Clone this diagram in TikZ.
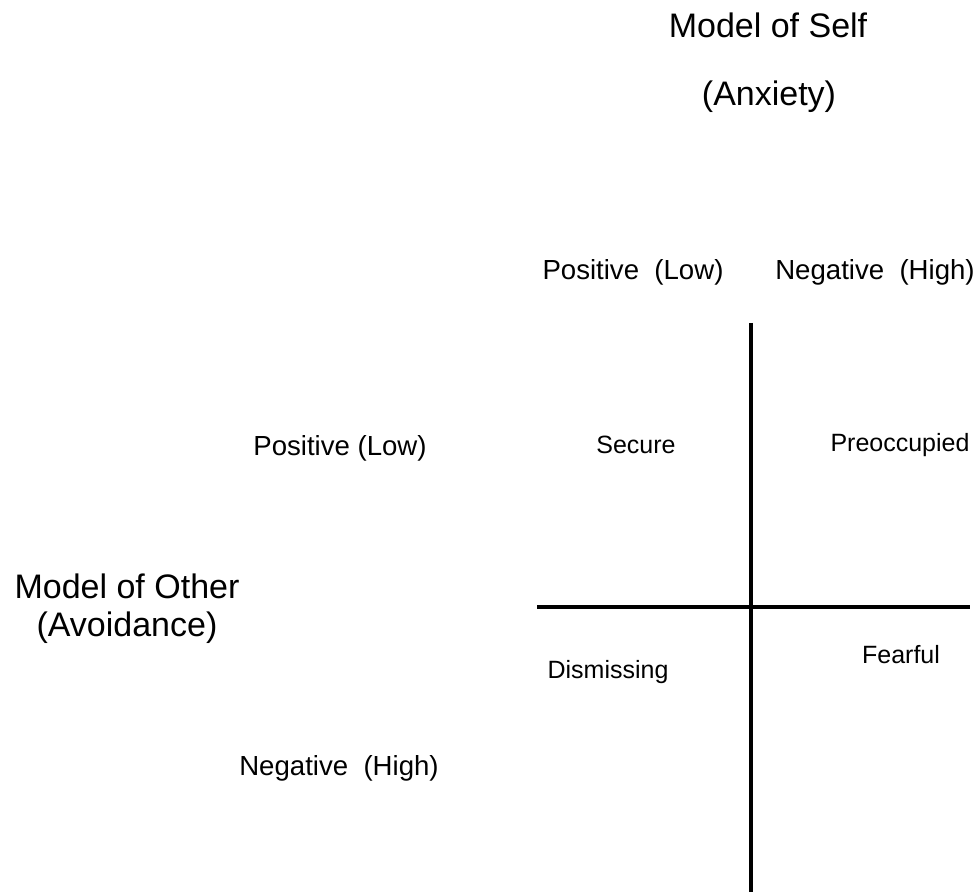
\documentclass[tikz,border=0pt]{standalone}
\usepackage{fontspec}
\setmainfont{Liberation Sans}

\begin{document}
\begin{tikzpicture}[x=0.5pt, y=-0.5pt,
    axisline/.style={line width=1.7pt, black},
    titlefont/.style={font=\fontsize{17}{19}\selectfont, inner sep=0pt},
    polefont/.style={font=\fontsize{13.8}{16}\selectfont, inner sep=0pt},
    stylefont/.style={font=\fontsize{12.5}{15}\selectfont, inner sep=0pt}]

  \useasboundingbox (0,0) rectangle (979,892);

  % Self axis (top)
  \node (self) at (768, 25) [titlefont] {Model of Self};
  \node (anxiety) at (769, 97) [titlefont] {(Anxiety)};
  \node (selfpos) at (633, 272) [polefont] {Positive~~(Low)};
  \node (selfneg) at (875, 272) [polefont] {Negative~~(High)};

  % Other axis (left)
  \node (other) at (127, 609) [titlefont, align=center] {Model of Other\\(Avoidance)};
  \node (otherpos) at (340, 448) [polefont] {Positive (Low)};
  \node (otherneg) at (339, 768) [polefont] {Negative~~(High)};

  % Axes
  \coordinate (vtop) at (751, 323);
  \coordinate (vbot) at (751, 892);
  \coordinate (hleft) at (537, 607);
  \coordinate (hright) at (970, 607);
  \draw[axisline] (vtop) -- (vbot);
  \draw[axisline] (hleft) -- (hright);

  % Quadrants
  \node (secure) at (636, 445) [stylefont] {Secure};
  \node (preoccupied) at (900, 445) [stylefont] {Preoccupied};
  \node (dismissing) at (608, 672) [stylefont] {Dismissing};
  \node (fearful) at (901, 655) [stylefont] {Fearful};

\end{tikzpicture}
\end{document}
